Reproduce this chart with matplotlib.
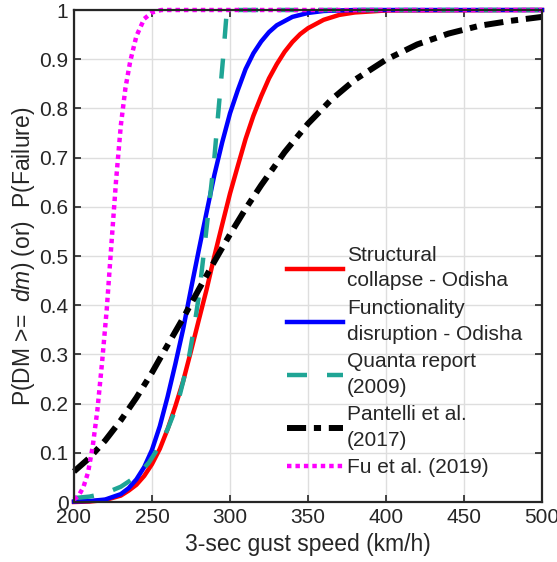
import matplotlib
matplotlib.use("Agg")
import matplotlib.pyplot as plt

# values (gust speed in km/h, probability)
x_struct = [200, 210, 220, 230, 235, 240, 245, 250, 255, 260, 265, 270, 275, 280,
            285, 290, 295, 300, 305, 310, 315, 320, 325, 330, 335, 340, 345, 350,
            360, 370, 380, 400, 500]
y_struct = [0.000, 0.001, 0.004, 0.013, 0.023, 0.035, 0.053, 0.077, 0.108, 0.148,
            0.195, 0.246, 0.307, 0.370, 0.432, 0.500, 0.564, 0.627, 0.683, 0.738,
            0.785, 0.825, 0.861, 0.890, 0.915, 0.935, 0.951, 0.963, 0.980, 0.990,
            0.995, 0.999, 1.000]

x_func = [200, 210, 220, 230, 235, 240, 245, 250, 255, 260, 265, 270, 275, 280,
          285, 290, 295, 300, 305, 310, 315, 320, 325, 330, 340, 350, 360, 380, 500]
y_func = [0.001, 0.002, 0.005, 0.016, 0.028, 0.046, 0.071, 0.106, 0.154, 0.214,
          0.281, 0.352, 0.433, 0.512, 0.589, 0.665, 0.731, 0.790, 0.837, 0.880,
          0.912, 0.936, 0.955, 0.969, 0.986, 0.994, 0.998, 1.000, 1.000]

x_quanta = [200, 210, 220, 230, 240, 248, 252, 256, 260, 264, 268, 271, 274, 277,
            280, 283, 286.5, 290, 293, 295.5, 298, 500]
y_quanta = [0.008, 0.011, 0.018, 0.031, 0.052, 0.080, 0.100, 0.122, 0.148, 0.180,
            0.220, 0.258, 0.300, 0.355, 0.418, 0.500, 0.600, 0.700, 0.810, 0.900,
            1.000, 1.000]

x_pant = [200, 210, 220, 230, 240, 250, 260, 270, 280, 290, 300, 310, 320, 335,
          350, 365, 380, 400, 420, 440, 460, 480, 500]
y_pant = [0.062, 0.090, 0.125, 0.166, 0.212, 0.263, 0.319, 0.374, 0.432, 0.489,
          0.544, 0.596, 0.644, 0.711, 0.769, 0.818, 0.858, 0.899, 0.930, 0.952,
          0.968, 0.978, 0.986]

x_fu = [200, 203, 206, 209, 212, 215, 218, 221, 224, 227, 230, 233, 236, 240,
        245, 250, 256, 500]
y_fu = [0.005, 0.013, 0.030, 0.060, 0.113, 0.187, 0.284, 0.392, 0.525, 0.655,
        0.765, 0.842, 0.895, 0.947, 0.982, 0.995, 1.000, 1.000]

labels = ["Structural\ncollapse - Odisha", "Functionality\ndisruption - Odisha",
          "Quanta report\n(2009)", "Pantelli et al.\n(2017)", "Fu et al. (2019)"]

plt.rcParams['font.family'] = ['Liberation Sans', 'DejaVu Sans']
plt.rcParams['mathtext.fontset'] = 'custom'
plt.rcParams['mathtext.rm'] = 'Liberation Sans'
plt.rcParams['mathtext.it'] = 'Liberation Sans:italic'

dark = '#262626'
fig = plt.figure(figsize=(5.57, 5.62), dpi=100)
ax = fig.add_axes([74 / 557, 60 / 562, 468 / 557, 492 / 562])

ax.plot(x_struct, y_struct, color='#ff0000', lw=3.2, label=labels[0], clip_on=False)
ax.plot(x_func, y_func, color='#0000ff', lw=3.2, label=labels[1], clip_on=False)
ax.plot(x_quanta, y_quanta, color='#1fa595', lw=3.2, dashes=(4.5, 4.5),
        label=labels[2], clip_on=False)
ax.plot(x_pant, y_pant, color='black', lw=4.3, dashes=(3.2, 1.3, 1.2, 1.3),
        label=labels[3], clip_on=False)
ax.plot(x_fu, y_fu, color='#ff00ff', lw=3.2, dashes=(1.0, 0.9),
        label=labels[4], clip_on=False)

ax.set_xlim(200, 500)
ax.set_ylim(0, 1)
ax.set_xticks([200, 250, 300, 350, 400, 450, 500])
ax.set_yticks([0, 0.1, 0.2, 0.3, 0.4, 0.5, 0.6, 0.7, 0.8, 0.9, 1])
ax.set_yticklabels(['0', '0.1', '0.2', '0.3', '0.4', '0.5', '0.6', '0.7', '0.8', '0.9', '1'])
ax.grid(True, color='#dedede', lw=1)
ax.set_axisbelow(True)
ax.tick_params(direction='in', top=True, right=True, length=5, width=1.2,
               labelsize=15, colors=dark, pad=4)
for s in ax.spines.values():
    s.set_color(dark)
    s.set_linewidth(1.6)

ax.set_xlabel("3-sec gust speed (km/h)", fontsize=16.5, color=dark)
ax.xaxis.set_label_coords(0.499, -0.062)
ax.set_ylabel(r"P(DM >=  $dm$) (or)  P(Failure)", fontsize=16.5, color=dark)
ax.yaxis.set_label_coords(-0.08, 0.5)

leg = ax.legend(loc='upper left', bbox_to_anchor=(0.455, 0.52), frameon=False,
                fontsize=15, handlelength=2.69, handletextpad=0.19,
                labelspacing=0.42, borderaxespad=0, borderpad=0)
for t in leg.get_texts():
    t.set_color(dark)
    t.set_linespacing(1.42)

fig.savefig("out.png", dpi=100)
